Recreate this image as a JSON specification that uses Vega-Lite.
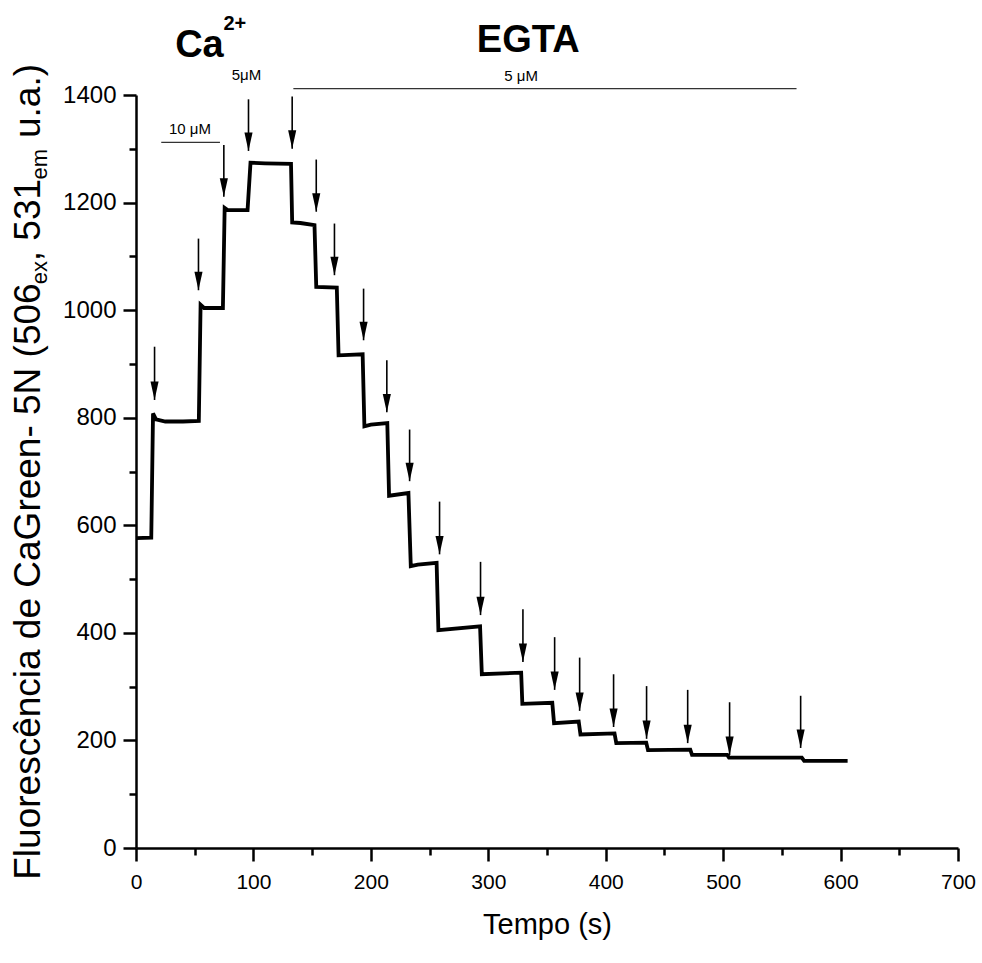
{
  "$schema": "https://vega.github.io/schema/vega-lite/v6.json",
  "width": 822,
  "height": 753,
  "autosize": {"type": "none"},
  "padding": {"left": 136, "top": 95, "right": 24, "bottom": 115},
  "background": "white",
  "config": {"view": {"stroke": null}},
  "datasets": {
    "curve": [
      {"t": 0, "v": 576}, {"t": 13, "v": 577}, {"t": 14.5, "v": 808}, {"t": 17, "v": 797}, {"t": 25, "v": 793},
      {"t": 40, "v": 793}, {"t": 53.5, "v": 794}, {"t": 55, "v": 1010}, {"t": 58, "v": 1004}, {"t": 74, "v": 1004},
      {"t": 75.5, "v": 1190}, {"t": 78, "v": 1186}, {"t": 95, "v": 1186}, {"t": 97.5, "v": 1274}, {"t": 110, "v": 1273},
      {"t": 132, "v": 1272}, {"t": 133, "v": 1163}, {"t": 140, "v": 1162}, {"t": 152, "v": 1158}, {"t": 153.5, "v": 1043},
      {"t": 171, "v": 1042}, {"t": 172.5, "v": 916}, {"t": 193, "v": 918}, {"t": 194.5, "v": 784}, {"t": 200, "v": 787},
      {"t": 214, "v": 790}, {"t": 215.5, "v": 655}, {"t": 232, "v": 660}, {"t": 234, "v": 524}, {"t": 240, "v": 527},
      {"t": 256, "v": 530}, {"t": 257.5, "v": 405}, {"t": 293, "v": 412}, {"t": 294.5, "v": 323}, {"t": 328, "v": 326},
      {"t": 329, "v": 268}, {"t": 354.5, "v": 270}, {"t": 356, "v": 232}, {"t": 377, "v": 235}, {"t": 378.5, "v": 211},
      {"t": 407.5, "v": 213}, {"t": 409, "v": 195}, {"t": 434.5, "v": 196}, {"t": 436, "v": 182}, {"t": 472, "v": 183},
      {"t": 473.5, "v": 173}, {"t": 503.5, "v": 173}, {"t": 505, "v": 168}, {"t": 567, "v": 168}, {"t": 569, "v": 162},
      {"t": 606, "v": 162}
    ],
    "arrows": [
      {"t": 15.8, "top": 932, "tip": 833},
      {"t": 53.2, "top": 1133, "tip": 1037},
      {"t": 74.8, "top": 1307, "tip": 1211},
      {"t": 95.8, "top": 1392, "tip": 1296},
      {"t": 133, "top": 1397, "tip": 1300},
      {"t": 153.5, "top": 1280, "tip": 1183},
      {"t": 169, "top": 1161, "tip": 1065},
      {"t": 193.8, "top": 1040, "tip": 944},
      {"t": 213.6, "top": 907, "tip": 810},
      {"t": 233, "top": 778, "tip": 682},
      {"t": 258.5, "top": 644, "tip": 546},
      {"t": 293.4, "top": 532, "tip": 433},
      {"t": 329.5, "top": 444, "tip": 346},
      {"t": 356.5, "top": 392, "tip": 294},
      {"t": 377.8, "top": 354, "tip": 255},
      {"t": 406.7, "top": 323, "tip": 225},
      {"t": 434.8, "top": 301, "tip": 203},
      {"t": 469.8, "top": 294, "tip": 195},
      {"t": 505.5, "top": 271, "tip": 173},
      {"t": 566, "top": 283, "tip": 186}
    ],
    "hlines": [
      {"t1": 21.5, "t2": 71.5, "v": 1312},
      {"t1": 134, "t2": 562.5, "v": 1412}
    ],
    "doses": [
      {"label": "10 μM", "t": 46, "v": 1336},
      {"label": "5μM", "t": 94, "v": 1437},
      {"label": "5 μM", "t": 328, "v": 1435}
    ],
    "agents": [
      {"label": "Ca", "t": 54, "v": 1470},
      {"label": "EGTA", "t": 334, "v": 1480}
    ],
    "sup": [
      {"label": "2+", "t": 74.5, "v": 1520}
    ],
    "ytitle": [
      {"label": "Fluorescência de CaGreen- 5N (506", "t": -82, "v": -59},
      {"label": ", 531", "t": -82, "v": 1091},
      {"label": "u.a.)", "t": -82, "v": 1320}
    ],
    "ysub": [
      {"label": "ex", "t": -76, "v": 1048},
      {"label": "em", "t": -76, "v": 1243}
    ]
  },
  "resolve": {"axis": {"x": "independent", "y": "independent"}},
  "layer": [
    {
      "data": {"name": "curve"},
      "mark": {"type": "line", "color": "black", "strokeWidth": 3.8, "strokeJoin": "miter", "clip": false},
      "encoding": {
        "x": {"field": "t", "type": "quantitative", "scale": {"domain": [0, 700], "nice": false},
          "axis": {"orient": "bottom", "values": [0, 100, 200, 300, 400, 500, 600, 700], "format": "d", "grid": false,
            "domainColor": "black", "domainWidth": 2.5, "tickColor": "black", "tickWidth": 2.5, "tickSize": 13,
            "labelFont": "Liberation Sans", "labelFontSize": 21, "labelColor": "black", "labelPadding": 10,
            "labelFlush": false, "labelOverlap": false,
            "title": "Tempo (s)", "titleFont": "Liberation Sans", "titleFontSize": 29, "titleFontWeight": "normal",
            "titleColor": "black", "titlePadding": 18}},
        "y": {"field": "v", "type": "quantitative", "scale": {"domain": [0, 1400], "nice": false},
          "axis": {"orient": "left", "values": [0, 200, 400, 600, 800, 1000, 1200, 1400], "format": "d", "grid": false,
            "domainColor": "black", "domainWidth": 2.5, "tickColor": "black", "tickWidth": 2.5, "tickSize": 13,
            "labelFont": "Liberation Sans", "labelFontSize": 24, "labelColor": "black", "labelPadding": 7,
            "labelFlush": false, "labelOverlap": false, "title": null}}
      }
    },
    {
      "data": {"name": "arrows"},
      "mark": {"type": "rule", "color": "black", "strokeWidth": 1.6},
      "encoding": {
        "x": {"field": "t", "type": "quantitative",
          "axis": {"orient": "bottom", "values": [50, 150, 250, 350, 450, 550, 650], "grid": false, "domain": false,
            "labels": false, "tickColor": "black", "tickWidth": 2.5, "tickSize": 7, "title": null}},
        "y": {"field": "top", "type": "quantitative",
          "axis": {"orient": "left", "values": [100, 300, 500, 700, 900, 1100, 1300], "grid": false, "domain": false,
            "labels": false, "tickColor": "black", "tickWidth": 2.5, "tickSize": 7, "title": null}},
        "y2": {"field": "tip"}
      }
    },
    {
      "data": {"name": "arrows"},
      "mark": {"type": "point", "shape": "M-0.44,-2L0.44,-2L0,0Z", "size": 340, "filled": true, "color": "black", "opacity": 1, "strokeWidth": 0},
      "encoding": {
        "x": {"field": "t", "type": "quantitative", "axis": null},
        "y": {"field": "tip", "type": "quantitative", "axis": null}
      }
    },
    {
      "data": {"name": "hlines"},
      "mark": {"type": "rule", "color": "#333333", "strokeWidth": 1.3, "clip": false},
      "encoding": {
        "x": {"field": "t1", "type": "quantitative", "axis": null},
        "x2": {"field": "t2"},
        "y": {"field": "v", "type": "quantitative", "axis": null}
      }
    },
    {
      "data": {"name": "doses"},
      "mark": {"type": "text", "font": "Liberation Sans", "fontSize": 15, "color": "black", "align": "center", "baseline": "middle"},
      "encoding": {
        "x": {"field": "t", "type": "quantitative", "axis": null},
        "y": {"field": "v", "type": "quantitative", "axis": null},
        "text": {"field": "label"}
      }
    },
    {
      "data": {"name": "agents"},
      "mark": {"type": "text", "font": "Liberation Sans", "fontSize": 38, "fontWeight": "bold", "color": "black", "align": "center", "baseline": "alphabetic"},
      "encoding": {
        "x": {"field": "t", "type": "quantitative", "axis": null},
        "y": {"field": "v", "type": "quantitative", "axis": null},
        "text": {"field": "label"}
      }
    },
    {
      "data": {"name": "sup"},
      "mark": {"type": "text", "font": "Liberation Sans", "fontSize": 20, "fontWeight": "bold", "color": "black", "align": "left", "baseline": "alphabetic"},
      "encoding": {
        "x": {"field": "t", "type": "quantitative", "axis": null},
        "y": {"field": "v", "type": "quantitative", "axis": null},
        "text": {"field": "label"}
      }
    },
    {
      "data": {"name": "ytitle"},
      "mark": {"type": "text", "font": "Liberation Sans", "fontSize": 37, "color": "black", "align": "left", "baseline": "alphabetic", "angle": 270},
      "encoding": {
        "x": {"field": "t", "type": "quantitative", "axis": null},
        "y": {"field": "v", "type": "quantitative", "axis": null},
        "text": {"field": "label"}
      }
    },
    {
      "data": {"name": "ysub"},
      "mark": {"type": "text", "font": "Liberation Sans", "fontSize": 22, "color": "black", "align": "left", "baseline": "alphabetic", "angle": 270},
      "encoding": {
        "x": {"field": "t", "type": "quantitative", "axis": null},
        "y": {"field": "v", "type": "quantitative", "axis": null},
        "text": {"field": "label"}
      }
    }
  ]
}
